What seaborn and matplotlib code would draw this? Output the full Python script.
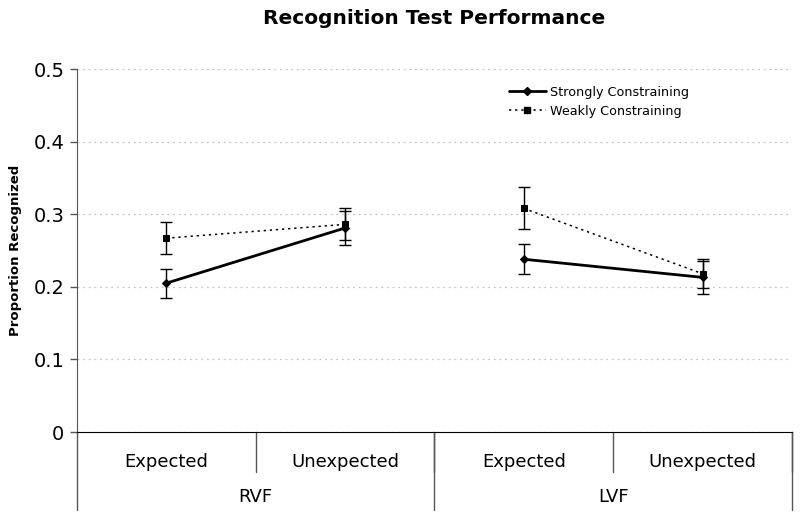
import numpy as np
import pandas as pd
import matplotlib
matplotlib.use("Agg")
import matplotlib.pyplot as plt
import seaborn as sns
from matplotlib.lines import Line2D

# values
fields = ["RVF", "RVF", "LVF", "LVF"]
expectancy = ["Expected", "Unexpected", "Expected", "Unexpected"]
strong_mean = [0.205, 0.281, 0.238, 0.213]
strong_err = [0.020, 0.024, 0.021, 0.023]
weak_mean = [0.267, 0.286, 0.308, 0.218]
weak_err = [0.022, 0.022, 0.029, 0.020]
series_names = ["Strongly Constraining", "Weakly Constraining"]

rows = []
for name, means, errs in [(series_names[0], strong_mean, strong_err),
                          (series_names[1], weak_mean, weak_err)]:
    for i in range(len(fields)):
        rows.append({"pos": i, "field": fields[i], "expectancy": expectancy[i],
                     "constraint": name, "mean": means[i], "err": errs[i]})
df = pd.DataFrame(rows)

sns.set_style("white")
plt.rcParams["font.family"] = ["DejaVu Sans"]
plt.rcParams["text.color"] = "black"
plt.rcParams["ytick.color"] = "black"
plt.rcParams["axes.labelcolor"] = "black"

fig = plt.figure(figsize=(8, 5.19), dpi=100)
ax = fig.add_axes([0.096, 0.1676, 0.894, 0.6994])

markers = {series_names[0]: "D", series_names[1]: "s"}
widths = {series_names[0]: 2.0, series_names[1]: 1.1}
styles = {series_names[0]: "-", series_names[1]: (0, (1.5, 2.5))}

# lines only connect conditions inside the same visual field
for fld in ["RVF", "LVF"]:
    for name in series_names:
        sub = df[(df["field"] == fld) & (df["constraint"] == name)]
        sns.lineplot(data=sub, x="pos", y="mean", color="black",
                     marker=markers[name],
                     markersize=4.5 if name == series_names[0] else 5,
                     linestyle=styles[name], linewidth=widths[name],
                     markeredgecolor="black", ax=ax, legend=False, zorder=3)

for name in series_names:
    sub = df[df["constraint"] == name]
    ax.errorbar(sub["pos"], sub["mean"], yerr=sub["err"], fmt="none",
                ecolor="black", elinewidth=1.0, capsize=4, capthick=1.0, zorder=2)

ax.set_xlim(-0.5, len(fields) - 0.5)
ax.set_ylim(0, 0.5)
ax.set_yticks([0, 0.1, 0.2, 0.3, 0.4, 0.5])
ax.set_yticklabels(["0", "0.1", "0.2", "0.3", "0.4", "0.5"], fontsize=14)
ax.yaxis.grid(True, color="#c4c4c4", linestyle=(0, (1.5, 3)), linewidth=0.9)
ax.set_axisbelow(True)
ax.tick_params(axis="y", direction="out", length=5, width=1, color="#555555",
               left=True, pad=4)
ax.set_xticks([])
ax.set_xlabel("")
ax.set_ylabel("Proportion Recognized", fontsize=9.5, fontweight="bold", labelpad=8)
for side in ["top", "right"]:
    ax.spines[side].set_visible(False)
ax.spines["left"].set_color("#555555")
ax.spines["bottom"].set_color("black")

# category table below the axis
trans = ax.get_xaxis_transform()
for i, lab in enumerate(expectancy):
    ax.text(i, -0.083, lab, transform=trans, ha="center", va="center", fontsize=13)
    ax.plot([i + 0.5, i + 0.5], [0, -0.11], transform=trans, color="#555555",
            lw=1, clip_on=False)
group_names = ["RVF", "LVF"]
for g, gname in enumerate(group_names):
    ax.text(2 * g + 0.5, -0.18, gname, transform=trans, ha="center", va="center",
            fontsize=13)
for b in [-0.5, 1.5, 3.5]:
    ax.plot([b, b], [0, -0.215], transform=trans, color="#555555", lw=1, clip_on=False)

fig.suptitle("Recognition Test Performance", x=0.543, y=0.982, fontsize=14.5,
             fontweight="bold")

handles = [Line2D([0], [0], color="black", lw=2, marker="D", markersize=4),
           Line2D([0], [0], color="black", lw=1.1, linestyle=(0, (1.5, 2.5)),
                  marker="s", markersize=4.5)]
ax.legend(handles, series_names, loc="upper left", bbox_to_anchor=(0.588, 0.985),
          frameon=False, fontsize=9.2, handlelength=2.9, labelspacing=0.45,
          handletextpad=0.35)

fig.savefig("out.png", dpi=100)
